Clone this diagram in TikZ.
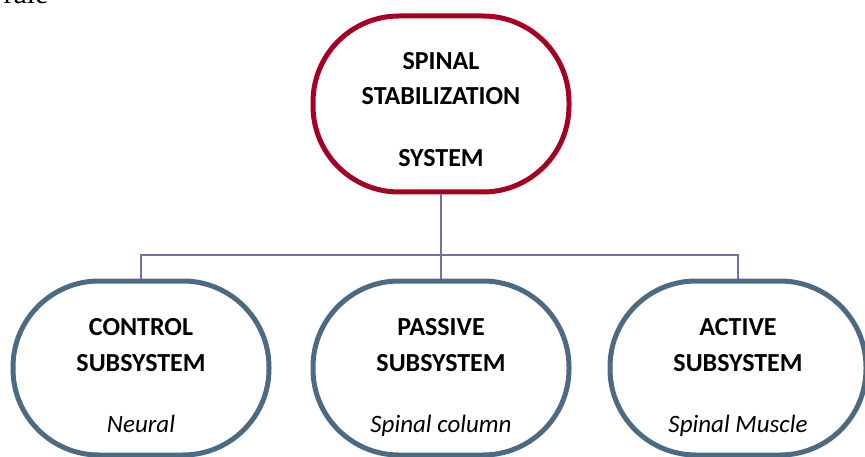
\documentclass[tikz,border=0pt]{standalone}
\usepackage{fontspec}
\setmainfont{Carlito}
\newfontfamily\cutserif{Liberation Serif}
\usetikzlibrary{positioning}
\definecolor{spinalred}{RGB}{165,0,36}
\definecolor{subslate}{RGB}{76,107,130}
\definecolor{linkpurple}{RGB}{116,110,168}
\newcommand{\subitalic}{\fontsize{25}{36}\selectfont\mdseries\itshape}

\begin{document}
\begin{tikzpicture}[x=1pt, y=-1pt, every node/.style={font=\fontsize{26}{35}\selectfont}]
    \tikzset{
    topblock/.style={draw=spinalred, line width=5pt, shape=rectangle, rounded corners=86pt, align=center, minimum width=256pt, minimum height=176pt, font=\fontsize{26}{35}\selectfont\bfseries},
    subblock/.style={draw=subslate, line width=5pt, shape=rectangle, rounded corners=86pt, align=center, minimum width=256pt, minimum height=174pt, font=\fontsize{26}{36}\selectfont\bfseries},
    line/.style={draw=linkpurple, line width=2pt}
}
\useasboundingbox (0,0) rectangle (865,457);
\clip (0,0) rectangle (865,457);

\node [anchor=base west, font=\fontsize{30}{30}\selectfont\cutserif] (cutword) at (0,4) {rale};

\node [topblock] (spinal) at (441,104) {\rule{0pt}{34pt}SPINAL\\STABILIZATION\\[27pt]\rule[-6pt]{0pt}{6pt}SYSTEM};
\node [subblock, below of=spinal, node distance=264pt] (passive) {\rule{0pt}{37pt}PASSIVE\\SUBSYSTEM\\[25pt]\rule[-6pt]{0pt}{6pt}\subitalic Spinal column};
\node [subblock, left of=passive, node distance=300pt] (control) {\rule{0pt}{37pt}CONTROL\\SUBSYSTEM\\[25pt]\rule[-6pt]{0pt}{6pt}\subitalic Neural};
\node [subblock, right of=passive, node distance=297pt] (active) {\rule{0pt}{37pt}ACTIVE\\SUBSYSTEM\\[25pt]\rule[-6pt]{0pt}{6pt}\subitalic Spinal Muscle};

\coordinate (fork) at (441,255);

\path [line] (spinal.south) -- (fork);
\path [line] (fork) -| (control.north);
\path [line] (fork) -- (passive.north);
\path [line] (fork) -| (active.north);

\end{tikzpicture}
\end{document}
